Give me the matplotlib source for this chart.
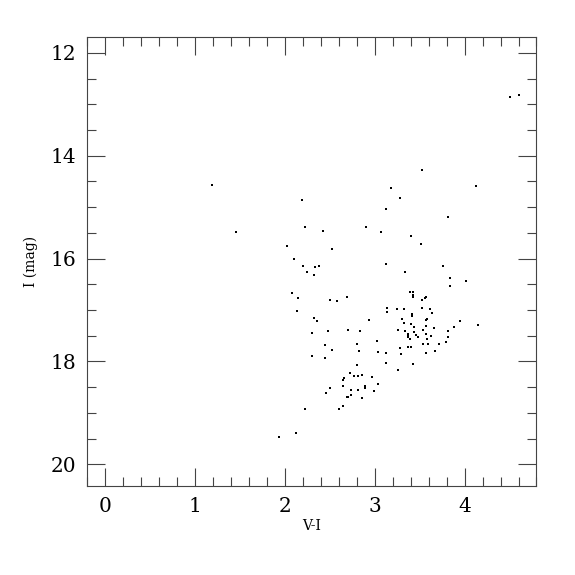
import matplotlib
matplotlib.use("Agg")
import matplotlib.pyplot as plt
from matplotlib.ticker import MultipleLocator

# colour index V-I and I magnitude
v_i = [1.19, 1.45, 2.19, 2.22, 2.02, 2.10, 2.20, 2.33, 2.38, 2.24,
       2.32, 2.08, 2.15, 3.18, 3.12, 2.42, 2.90, 3.07, 2.52, 3.12,
       2.69, 2.50, 3.53, 4.13, 3.28, 3.81, 3.40, 3.51, 3.34, 3.76,
       3.84, 4.02, 3.84, 3.39, 3.43, 3.43, 3.43, 3.57, 3.56, 3.53,
       2.58, 3.14, 3.14, 3.25, 2.13, 2.32, 2.36, 2.94, 2.30, 2.48,
       2.70, 2.83, 3.26, 2.44, 2.52, 2.80, 2.82, 3.02, 3.04, 3.13,
       2.30, 2.44, 3.12, 2.80, 3.26, 2.72, 2.66, 2.65, 2.77, 2.81,
       2.86, 2.97, 3.04, 2.65, 2.50, 2.46, 2.74, 2.81, 2.89, 2.89,
       2.99, 2.73, 2.69, 2.70, 2.86, 3.32, 3.52, 3.62, 3.64, 3.41,
       3.41, 3.58, 3.57, 3.30, 3.95, 4.15, 3.33, 3.40, 3.44, 3.57,
       3.88, 3.66, 3.54, 3.34, 3.44, 3.81, 3.37, 3.37, 3.37, 3.46,
       3.48, 3.57, 3.63, 3.81, 3.39, 3.58, 3.54, 3.59, 3.72, 3.79,
       3.37, 3.40, 3.28, 3.67, 3.57, 3.29, 3.43, 2.65, 2.60, 2.22,
       2.12, 1.93, 4.51, 4.61]
i_mag = [14.57, 15.49, 14.86, 15.38, 15.76, 16.00, 16.15, 16.17, 16.15, 16.26,
         16.32, 16.67, 16.77, 14.62, 15.03, 15.46, 15.39, 15.48, 15.81, 16.11,
         16.75, 16.81, 14.28, 14.59, 14.82, 15.19, 15.56, 15.72, 16.27, 16.14,
         16.37, 16.43, 16.53, 16.65, 16.65, 16.71, 16.75, 16.75, 16.77, 16.80,
         16.83, 16.96, 17.04, 16.99, 17.02, 17.16, 17.22, 17.19, 17.45, 17.41,
         17.38, 17.40, 17.39, 17.69, 17.77, 17.66, 17.80, 17.61, 17.82, 17.84,
         17.90, 17.93, 18.04, 18.07, 18.17, 18.22, 18.32, 18.36, 18.29, 18.29,
         18.27, 18.30, 18.44, 18.48, 18.52, 18.61, 18.56, 18.56, 18.48, 18.52,
         18.57, 18.65, 18.69, 18.70, 18.71, 16.98, 16.97, 16.98, 17.05, 17.08,
         17.12, 17.17, 17.20, 17.18, 17.21, 17.29, 17.26, 17.27, 17.33, 17.31,
         17.33, 17.35, 17.38, 17.41, 17.42, 17.41, 17.47, 17.50, 17.52, 17.49,
         17.53, 17.47, 17.51, 17.53, 17.57, 17.57, 17.66, 17.66, 17.66, 17.63,
         17.72, 17.72, 17.74, 17.80, 17.84, 17.86, 18.06, 18.86, 18.93, 18.93,
         19.40, 19.47, 12.86, 12.82]

plt.rcParams['font.family'] = ['DejaVu Serif']

fig = plt.figure(figsize=(5.75, 5.75), dpi=100)
ax = fig.add_axes([0.152, 0.155, 0.781, 0.780])

ax.plot(v_i, i_mag, linestyle='none', marker='s', markersize=1.9,
        color='black', markeredgewidth=0)

ax.set_xlim(-0.2, 4.8)
ax.set_ylim(20.42, 11.70)
ax.xaxis.set_major_locator(MultipleLocator(1))
ax.xaxis.set_minor_locator(MultipleLocator(0.2))
ax.yaxis.set_major_locator(MultipleLocator(2))
ax.yaxis.set_minor_locator(MultipleLocator(0.5))

ax.tick_params(which='both', direction='in', top=True, right=True,
               color='#444444', width=0.8)
ax.tick_params(which='major', length=13, labelsize=14.5, pad=8)
ax.tick_params(which='minor', length=6.5)
for sp in ax.spines.values():
    sp.set_color('#444444')
    sp.set_linewidth(0.8)

ax.set_xlabel("V-I", fontsize=10, labelpad=2)
ax.set_ylabel("I (mag)", fontsize=10, labelpad=9)

fig.savefig("out.png", dpi=100)
